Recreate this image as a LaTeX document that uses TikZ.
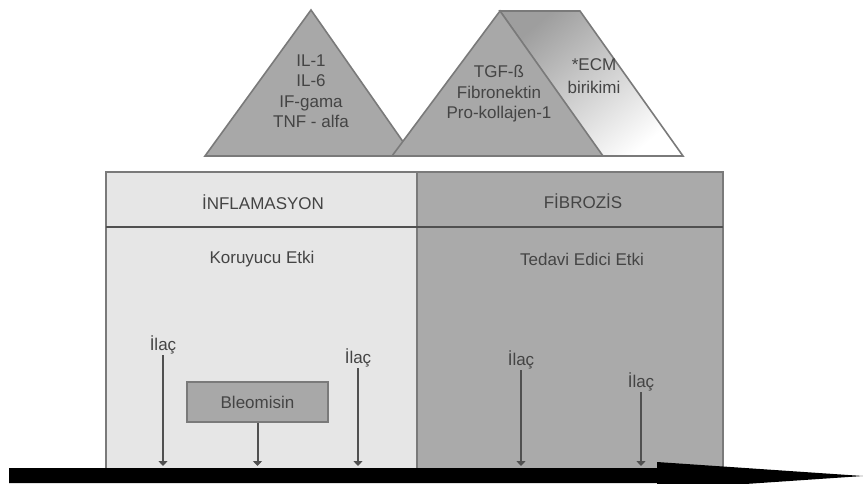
\documentclass[tikz,border=0pt]{standalone}
\usepackage{fontspec}
\setmainfont{Liberation Sans}
\usetikzlibrary{arrows.meta, positioning}
\definecolor{txtgray}{HTML}{444444}
\definecolor{trigray}{HTML}{A8A8A8}
\definecolor{edgegray}{HTML}{7A7A7A}
\definecolor{inflgray}{HTML}{E6E6E6}
\definecolor{fibgray}{HTML}{AAAAAA}
\definecolor{linegray}{HTML}{505050}

\begin{document}
\begin{tikzpicture}[x=1pt, y=-1pt,
  every node/.style={align=center, text=txtgray, font=\fontsize{17}{20.5}\selectfont},
  drug/.style={draw=linegray, line width=2pt, -{Triangle[length=5pt,width=9pt]}},
  ilac/.style={inner sep=1pt},
  cell/.style={draw=edgegray, line width=1.6pt},
  tri/.style={draw=edgegray, line width=1.6pt, fill=trigray}]
\useasboundingbox (0,0) rectangle (863,483);
% triangles on top
\draw[tri] (205,156) -- (311,10) -- (413,156) -- cycle;
\draw[draw=edgegray, line width=1.6pt, top color=black!38, bottom color=white, shading angle=40]
  (500,11) -- (580,11) -- (683,156) -- (602,156) -- cycle;
\draw[tri] (392,156) -- (500,11) -- (603,156) -- cycle;
\node (cyto) at (311,91) {IL-1\\IL-6\\IF-gama\\TNF - alfa};
\node (tgf) at (499,94) {TGF-ß\\Fibronektin\\Pro-kollajen-1};
\node (ecm) [font=\fontsize{17}{23}\selectfont] at (594,76) {*ECM\\birikimi};
% table
\draw[cell, fill=inflgray] (106,172) rectangle (417,472);
\draw[cell, fill=fibgray] (417,172) rectangle (723,472);
\draw[linegray, line width=1.6pt] (106,227) -- (723,227);
\node (infl) at (263,202) {İNFLAMASYON};
\node (fibr) at (583,201) {FİBROZİS};
\node (koru) at (262,259) {Koruyucu Etki};
\node (teda) at (582,259) {Tedavi Edici Etki};
% drugs
\node (bleo) [draw=edgegray, line width=1.6pt, fill=trigray, minimum width=141pt, minimum height=40pt] at (257.5,402) {Bleomisin};
\node (ilA) [ilac] at (163,345) {İlaç};
\node (ilB) [ilac] at (358,358) {İlaç};
\node (ilC) [ilac] at (521,360) {İlaç};
\node (ilD) [ilac] at (641,382) {İlaç};
% time axis
\coordinate (bar) at (9,466);
\begin{scope}
\clip (0,0) rectangle (863,483);
\fill[black] (9,468) -- (657,468) -- (657,462) -- (863,476) -- (657,490) -- (657,483) -- (9,483) -- cycle;
\end{scope}
\draw[drug] (ilA.south) -- (ilA.south |- bar);
\draw[drug] (bleo.south) -- (bleo.south |- bar);
\draw[drug] (ilB.south) -- (ilB.south |- bar);
\draw[drug] (ilC.south) -- (ilC.south |- bar);
\draw[drug] (ilD.south) -- (ilD.south |- bar);
\end{tikzpicture}
\end{document}
